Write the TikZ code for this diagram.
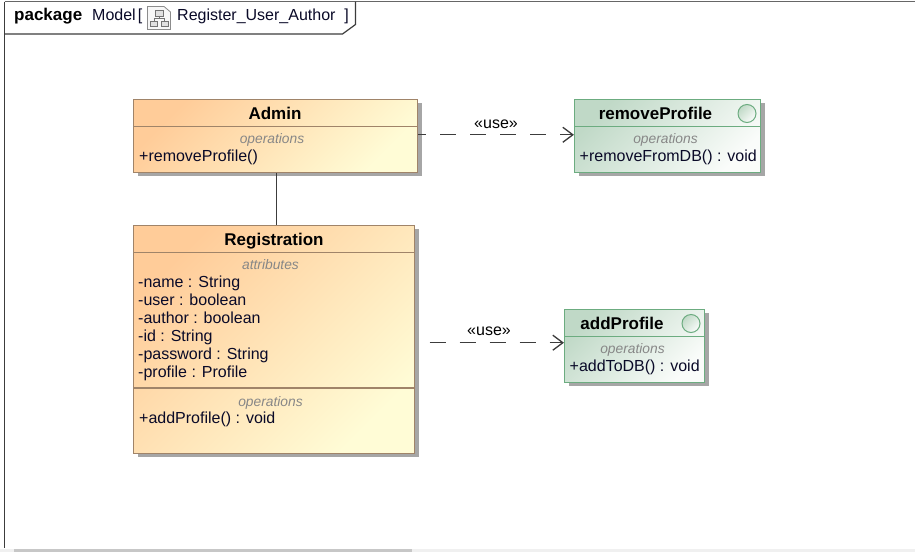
\documentclass[tikz,border=0pt]{standalone}
\usepackage{fontspec}
\setmainfont{Liberation Sans}
\usetikzlibrary{arrows.meta,shadows}
\definecolor{classline}{RGB}{160,132,105}
\definecolor{classleft}{RGB}{255,204,153}
\definecolor{classright}{RGB}{255,252,214}
\definecolor{ifaceline}{RGB}{108,172,128}
\definecolor{ifaceleft}{RGB}{192,217,199}
\definecolor{ifaceright}{RGB}{250,252,250}
\definecolor{frameline}{RGB}{60,60,60}
\definecolor{partlabel}{RGB}{135,135,135}
\definecolor{nametext}{RGB}{10,10,40}
\begin{document}
\begin{tikzpicture}[x=1pt,y=-1pt]
\tikzstyle{classbox}=[draw=classline,line width=1.2pt,inner sep=0pt,left color=classleft,right color=classright,shading angle=45,drop shadow={shadow xshift=4pt,shadow yshift=-4pt,fill=black!35,opacity=1}];
\tikzstyle{ifacebox}=[draw=ifaceline,line width=1.2pt,inner sep=0pt,left color=ifaceleft,right color=ifaceright,shading angle=45,drop shadow={shadow xshift=4pt,shadow yshift=-4pt,fill=black!35,opacity=1}];
\tikzstyle{ifacedot}=[draw=ifaceline,line width=1pt,circle,minimum size=18pt,inner sep=0pt,left color=ifaceleft,right color=ifaceright,shading angle=45];
\tikzstyle{titletext}=[inner sep=0pt,text height=12pt,text depth=3pt,font=\fontsize{17}{18}\selectfont\bfseries];
\tikzstyle{parttext}=[inner sep=0pt,text height=10pt,text depth=3pt,text=partlabel,font=\fontsize{13.8}{15}\selectfont\itshape];
\tikzstyle{membertext}=[inner sep=0pt,anchor=west,align=left,text=nametext,font=\fontsize{16}{18}\selectfont];
\tikzstyle{headtext}=[inner sep=0pt,anchor=west,text height=12pt,text depth=4pt,text=nametext,font=\fontsize{16}{18}\selectfont];
\tikzstyle{usetext}=[inner sep=0pt,text=black,font=\fontsize{16}{18}\selectfont];
\tikzstyle{flowline}=[frameline,line width=1.3pt,dash pattern=on 16pt off 14pt,-{Straight Barb[length=10pt,width=15pt]}];
\tikzstyle{iconpart}=[draw=black!55,fill=black!12,line width=0.7pt];
\useasboundingbox (0,0) rectangle (915,552);
\fill[white] (0,0) rectangle (915,552);
% window scrollbar
\fill[black!6] (0,548.5) rectangle (915,552);
\fill[black!22] (14,548.5) rectangle (412,552);
% package frame
\draw[black!60,line width=1pt] (4.5,1.5) -- (915,1.5);
\draw[frameline,line width=1.2pt] (4.5,1.5) -- (4.5,548);
\draw[frameline,line width=1.2pt] (4.5,34) -- (342.5,34) -- (355.5,24.5) -- (355.5,1.5);
\node[titletext,anchor=west] (pkgWord) at (14,16.2) {package};
\node[headtext] (pkgName) at (92,16.7) {{\spaceskip=2pt Model [}};
\node[headtext] (pkgTitle) at (177,16.7) {Register\_User\_Author \ ]};
% diagram icon
\draw[black!45,fill=black!3,line width=0.8pt] (147.5,6.5) -- (164,6.5) -- (170.5,12) -- (170.5,29.5) -- (147.5,29.5) -- cycle;
\draw[iconpart] (155,10) rectangle (163,16);
\draw[iconpart] (150.5,21) rectangle (157.5,26.5);
\draw[iconpart] (161,21) rectangle (168,26.5);
\draw[black!55,line width=0.7pt] (159,16) -- (159,18.5) (154,21) -- (154,18.5) -- (164.5,18.5) -- (164.5,21);
% classes
\node[classbox,minimum width=284pt,minimum height=73pt] (adminBox) at (275.5,135.8) {};
\draw[classline,line width=1.2pt] (133.5,126.5) -- (417.5,126.5);
\node[titletext] (adminTitle) at (275,114.8) {Admin};
\node[parttext] (adminPart) at (272,139.8) {operations};
\node[membertext] (adminOp) at (139,157.6) {+removeProfile()};
\node[classbox,minimum width=281pt,minimum height=228pt] (regBox) at (274,339.3) {};
\draw[classline,line width=1.2pt] (133.5,252.5) -- (414.5,252.5);
\draw[classline,line width=1.2pt] (133.5,388) -- (414.5,388);
\node[titletext] (regTitle) at (274,240.5) {Registration};
\node[parttext] (regPartA) at (270.5,265.8) {attributes};
\node[membertext] (regAttrs) at (138,328.7) {-name : String\\-user : boolean\\-author : boolean\\-id : String\\-password : String\\-profile : Profile};
\node[parttext] (regPartB) at (270.5,402.5) {operations};
\node[membertext] (regOp) at (139,419.4) {+addProfile() : void};
% interfaces
\node[ifacebox,minimum width=186pt,minimum height=73pt] (removeBox) at (667.5,135.8) {};
\draw[ifaceline,line width=1.2pt] (574.5,126.5) -- (760.5,126.5);
\node[titletext] (removeTitle) at (655.5,114.8) {removeProfile};
\node[ifacedot] (removeDot) at (747,113.5) {};
\node[parttext] (removePart) at (665.5,139.8) {operations};
\node[membertext] (removeOp) at (579.5,157.6) {+removeFromDB() : void};
\node[ifacebox,minimum width=140pt,minimum height=73pt] (addBox) at (634.5,345.8) {};
\draw[ifaceline,line width=1.2pt] (564.5,336.5) -- (704.5,336.5);
\node[titletext] (addTitle) at (622,324.8) {addProfile};
\node[ifacedot] (addDot) at (691,323.5) {};
\node[parttext] (addPart) at (632.5,349.8) {operations};
\node[membertext] (addOp) at (569.5,367.6) {+addToDB() : void};
% connectors
\coordinate (regOut) at (429.5,342.7);
\draw[frameline,line width=1.5pt] (adminBox.south -| 276.5,0) -- (regBox.north -| 276.5,0);
\draw[flowline,dash phase=8pt] (adminBox.east |- 0,134.8) -- node[usetext,above=5.7pt] (useTop) {«use»} (removeBox.west |- 0,134.8);
\draw[flowline] (regOut) -- node[usetext,pos=0.443,above=6.2pt] (useLow) {«use»} (addBox.west |- regOut);
\end{tikzpicture}
\end{document}
